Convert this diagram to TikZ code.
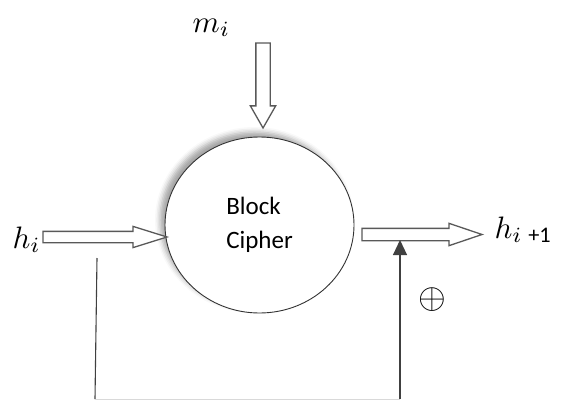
\documentclass[tikz,border=0pt]{standalone}
\usepackage{fontspec}
\newfontfamily\carlito{Carlito}
\usepackage{tikz}
\usetikzlibrary{shapes.geometric,shapes.arrows,arrows.meta,shadows.blur}

\begin{document}
\begin{tikzpicture}[
    x=1pt, y=1pt,
    cipherblock/.style={ellipse, draw=black!80, line width=0.9pt, fill=white, minimum width=189pt, minimum height=176pt, inner sep=0pt, font=\carlito\fontsize{25}{34}\selectfont, align=left, blur shadow={shadow xshift=-5pt, shadow yshift=5pt, shadow blur radius=5pt, shadow opacity=35}},
    fatarrow/.style={single arrow, draw=black!65, line width=1.3pt, fill=white, inner xsep=0pt, outer sep=0pt, single arrow head extend=5pt},
    varlabel/.style={inner sep=0pt, scale=3.1},
    feedline/.style={line width=1.1pt, draw=black!75},
    feedarrow/.style={-{Triangle[length=15pt, width=14pt]}, line width=1.1pt, draw=black!75}
]
    \useasboundingbox (0,0) rectangle (561,400);

    % Block cipher
    \node[cipherblock] (cipher) at (259.5,175) {Block\\Cipher};

    % Fat input / output arrows
    \node[fatarrow, rotate=-90, inner ysep=6.5pt, single arrow head extend=5.5pt, single arrow tip angle=59.5, minimum height=85pt, anchor=tip] (marrow) at (263,272) {};
    \node[fatarrow, inner ysep=5pt, single arrow tip angle=34.7, minimum height=124pt, anchor=tip] (hinarrow) at (167,163) {};
    \node[fatarrow, inner ysep=5.5pt, single arrow tip angle=37.4, minimum height=120pt, anchor=tail] (houtarrow) at (362,165.5) {};

    % Labels
    \node[varlabel, anchor=base west] (mlabel) at (192,368) {$m_i$};
    \node[varlabel, anchor=base west] (hinlabel) at (12,152) {$h_i$};
    \node[varlabel, anchor=base west] (houtlabel) at (494,162) {$h_{i\;\mbox{\carlito\fontsize{7.2}{8}\selectfont +1}}$};
    \node[varlabel, scale=1.15] (xorsym) at (432,100) {$\oplus$};

    % Feedback path
    \coordinate (fbtop) at (97,142);
    \coordinate (fbleft) at (95,1);
    \coordinate (fbright) at (400,1);
    \coordinate (fbend) at (400,160);
    \draw[feedline] (fbtop) -- (fbleft);
    \draw[line width=1pt, draw=black!15] (fbleft) -- (fbright);
    \draw[feedarrow] (fbright) -- (fbend);

\end{tikzpicture}
\end{document}
